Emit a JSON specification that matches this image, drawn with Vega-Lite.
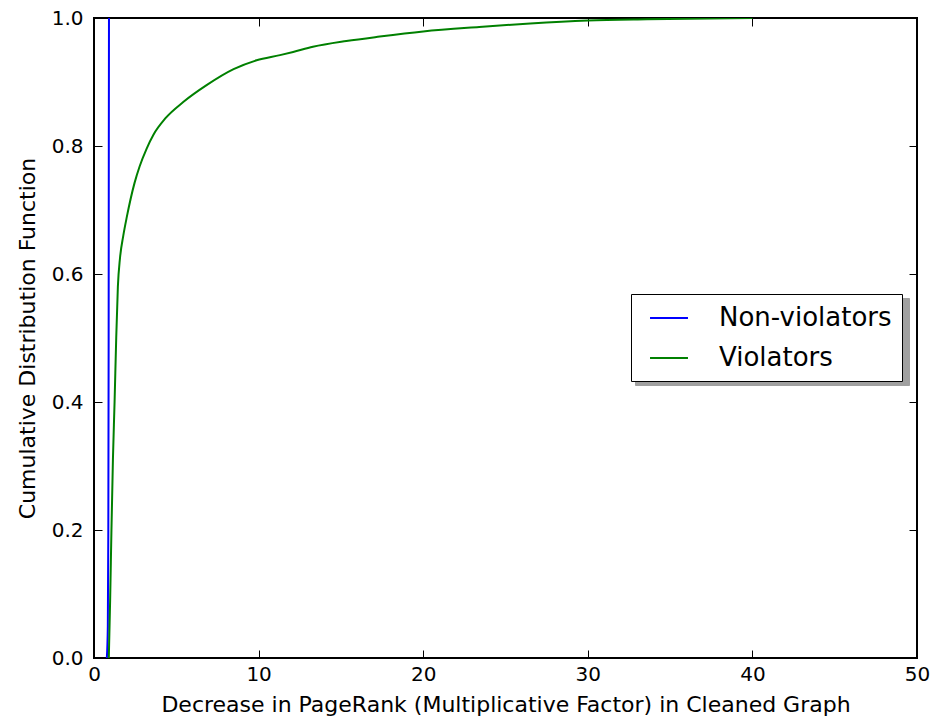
{
  "$schema": "https://vega.github.io/schema/vega-lite/v6.json",
  "width": 823,
  "height": 640,
  "autosize": {"type": "none"},
  "padding": {"left": 94, "top": 18, "right": 16, "bottom": 59},
  "background": "white",
  "config": {
    "font": "DejaVu Sans",
    "view": {"stroke": "black", "strokeWidth": 2},
    "axis": {"domain": false, "grid": false, "tickColor": "black", "tickSize": -8, "tickWidth": 1, "labelFlush": false, "labelFontSize": 20, "labelColor": "black", "titleFontSize": 22, "titleFontWeight": "normal", "titleColor": "black", "labelFont": "DejaVu Sans", "titleFont": "DejaVu Sans"}
  },
  "data": {"values": [
    {"series": "Non-violators", "x": 0.78, "y": 0.0},
    {"series": "Non-violators", "x": 0.84, "y": 0.05},
    {"series": "Non-violators", "x": 0.87, "y": 0.2},
    {"series": "Non-violators", "x": 0.89, "y": 0.5},
    {"series": "Non-violators", "x": 0.9, "y": 0.8},
    {"series": "Non-violators", "x": 0.91, "y": 1.0},
    {"series": "Violators", "x": 0.9, "y": 0.0},
    {"series": "Violators", "x": 0.98, "y": 0.09},
    {"series": "Violators", "x": 1.06, "y": 0.2},
    {"series": "Violators", "x": 1.15, "y": 0.31},
    {"series": "Violators", "x": 1.25, "y": 0.4},
    {"series": "Violators", "x": 1.35, "y": 0.5},
    {"series": "Violators", "x": 1.45, "y": 0.58},
    {"series": "Violators", "x": 1.58, "y": 0.625},
    {"series": "Violators", "x": 1.78, "y": 0.66},
    {"series": "Violators", "x": 2.0, "y": 0.69},
    {"series": "Violators", "x": 2.46, "y": 0.742},
    {"series": "Violators", "x": 2.77, "y": 0.768},
    {"series": "Violators", "x": 3.2, "y": 0.796},
    {"series": "Violators", "x": 3.62, "y": 0.818},
    {"series": "Violators", "x": 4.33, "y": 0.843},
    {"series": "Violators", "x": 5.44, "y": 0.869},
    {"series": "Violators", "x": 6.84, "y": 0.895},
    {"series": "Violators", "x": 8.48, "y": 0.92},
    {"series": "Violators", "x": 9.88, "y": 0.934},
    {"series": "Violators", "x": 11.3, "y": 0.942},
    {"series": "Violators", "x": 12.1, "y": 0.947},
    {"series": "Violators", "x": 13.3, "y": 0.955},
    {"series": "Violators", "x": 15.33, "y": 0.964},
    {"series": "Violators", "x": 17.36, "y": 0.971},
    {"series": "Violators", "x": 20.0, "y": 0.979},
    {"series": "Violators", "x": 23.4, "y": 0.986},
    {"series": "Violators", "x": 26.5, "y": 0.9915},
    {"series": "Violators", "x": 30.0, "y": 0.996},
    {"series": "Violators", "x": 33.6, "y": 0.998},
    {"series": "Violators", "x": 40.0, "y": 1.0}
  ]},
  "layer": [
    {
      "mark": {"type": "line", "strokeWidth": 2, "clip": true, "interpolate": "monotone"},
      "encoding": {
        "x": {"field": "x", "type": "quantitative", "scale": {"domain": [0, 50], "nice": false, "zero": false},
              "axis": {"orient": "bottom", "values": [0, 10, 20, 30, 40, 50], "labelPadding": 14, "title": "Decrease in PageRank (Multiplicative Factor) in Cleaned Graph", "titlePadding": 10}},
        "y": {"field": "y", "type": "quantitative", "scale": {"domain": [0, 1], "nice": false},
              "axis": {"orient": "left", "values": [0, 0.2, 0.4, 0.6, 0.8, 1.0], "format": ".1f", "labelPadding": 19, "title": "Cumulative Distribution Function", "titlePadding": 12}},
        "color": {"field": "series", "type": "nominal",
                  "scale": {"domain": ["Non-violators", "Violators"], "range": ["#0000ff", "#008000"]},
                  "legend": {"title": null, "orient": "none", "legendX": 537, "legendY": 276, "zindex": 2,
                             "symbolType": "M-1.46,0H1.46", "symbolSize": 676, "symbolStrokeWidth": 2, "symbolOffset": 14,
                             "labelFontSize": 26, "labelColor": "black", "labelFont": "DejaVu Sans", "labelOffset": 36, "labelLimit": 400,
                             "strokeColor": "black", "fillColor": "white", "padding": 10, "rowPadding": 13,
                             "cornerRadius": 0}},
        "order": {"field": "x", "type": "quantitative"}
      }
    },
    {
      "mark": {"type": "line", "strokeOpacity": 0},
      "encoding": {
        "x": {"field": "x", "type": "quantitative", "axis": {"orient": "top", "values": [0, 10, 20, 30, 40, 50], "labels": false, "title": null}},
        "y": {"field": "y", "type": "quantitative", "axis": {"orient": "right", "values": [0, 0.2, 0.4, 0.6, 0.8, 1.0], "labels": false, "title": null}},
        "strokeDash": {"field": "series", "type": "nominal",
                  "legend": {"title": null, "orient": "none", "legendX": 541, "legendY": 280, "zindex": 1,
                             "symbolType": "M-1.46,0H1.46", "symbolSize": 676, "symbolStrokeWidth": 2, "symbolOffset": 14, "symbolOpacity": 0,
                             "labelFontSize": 26, "labelExpr": "''", "labelOffset": 212, "labelLimit": 400,
                             "strokeColor": "#a0a0a0", "fillColor": "#a0a0a0", "padding": 10, "rowPadding": 13,
                             "cornerRadius": 0}}
      }
    }
  ],
  "resolve": {"axis": {"x": "independent", "y": "independent"}}
}
